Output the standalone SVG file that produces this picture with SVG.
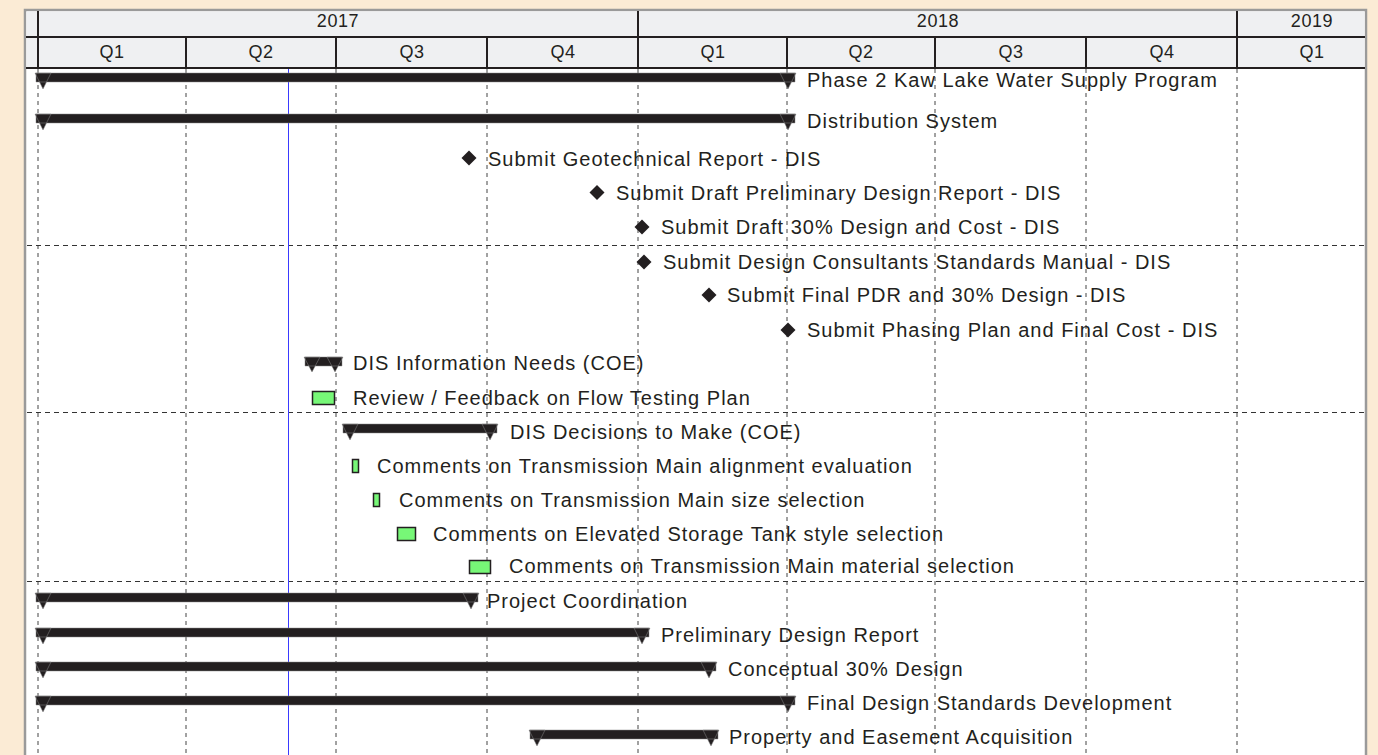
<svg xmlns="http://www.w3.org/2000/svg" width="1378" height="755" viewBox="0 0 1378 755">
<style>
.lbl{font-family:"Liberation Sans",Arial,sans-serif;font-size:20px;letter-spacing:1px;fill:#231F20}
.hdr{font-family:"Liberation Sans",Arial,sans-serif;font-size:18px;letter-spacing:0.6px;fill:#231F20;text-anchor:middle}
.sum{fill:#231F20;stroke:#8a8a8a;stroke-width:0.5;stroke-linejoin:round}
.ms{fill:#231F20}
.task{fill:#77F777;stroke:#231F20;stroke-width:1.5}
.vgrid{stroke:#444;stroke-width:1;stroke-dasharray:4 4}
.hgrid{stroke:#333;stroke-width:1;stroke-dasharray:5 4}
.hline{stroke:#231F20;stroke-width:2}
</style>
<rect x="0" y="0" width="1378" height="755" fill="#FBEBD5"/>
<g id="chart-frame">
<rect x="25" y="10" width="1341" height="760" fill="#FFFFFF" stroke="#9A9A9A" stroke-width="2.5"/>
<rect x="26.5" y="11.5" width="1338" height="56" fill="#EFF0F2"/>
</g>
<g id="header">
<line class="hline" x1="26" y1="37" x2="1365" y2="37"/>
<line class="hline" x1="26" y1="68" x2="1365" y2="68"/>
<g stroke="#231F20" stroke-width="2">
<line x1="38" y1="11" x2="38" y2="68"/>
<line x1="638" y1="11" x2="638" y2="68"/>
<line x1="1237" y1="11" x2="1237" y2="68"/>
<line x1="186" y1="37" x2="186" y2="68"/>
<line x1="336" y1="37" x2="336" y2="68"/>
<line x1="487" y1="37" x2="487" y2="68"/>
<line x1="787" y1="37" x2="787" y2="68"/>
<line x1="935" y1="37" x2="935" y2="68"/>
<line x1="1086" y1="37" x2="1086" y2="68"/>
</g>
<text class="hdr" x="338" y="27">2017</text>
<text class="hdr" x="938" y="27">2018</text>
<text class="hdr" x="1312" y="27">2019</text>
<text class="hdr" x="112" y="58">Q1</text>
<text class="hdr" x="261" y="58">Q2</text>
<text class="hdr" x="412" y="58">Q3</text>
<text class="hdr" x="563" y="58">Q4</text>
<text class="hdr" x="713" y="58">Q1</text>
<text class="hdr" x="861" y="58">Q2</text>
<text class="hdr" x="1011" y="58">Q3</text>
<text class="hdr" x="1162" y="58">Q4</text>
<text class="hdr" x="1312" y="58">Q1</text>
</g>
<g id="grid">
<line class="vgrid" x1="38" y1="69" x2="38" y2="755"/>
<line class="vgrid" x1="186" y1="69" x2="186" y2="755"/>
<line class="vgrid" x1="336" y1="69" x2="336" y2="755"/>
<line class="vgrid" x1="487" y1="69" x2="487" y2="755"/>
<line class="vgrid" x1="638" y1="69" x2="638" y2="755"/>
<line class="vgrid" x1="787" y1="69" x2="787" y2="755"/>
<line class="vgrid" x1="935" y1="69" x2="935" y2="755"/>
<line class="vgrid" x1="1086" y1="69" x2="1086" y2="755"/>
<line class="vgrid" x1="1237" y1="69" x2="1237" y2="755"/>
<line class="hgrid" x1="27" y1="245.5" x2="1365" y2="245.5"/>
<line class="hgrid" x1="27" y1="412.5" x2="1365" y2="412.5"/>
<line class="hgrid" x1="27" y1="581.5" x2="1365" y2="581.5"/>
<line x1="288.5" y1="69" x2="288.5" y2="755" stroke="#3A3AFF" stroke-width="1"/>
</g>
<g id="connectors"/>
<g id="task-phase2">
<path class="sum" d="M36 73H795V82H36Z M35 73h16l-8 16Z M780 73h16l-8 16Z"/>
<text class="lbl" x="807" y="87">Phase 2 Kaw Lake Water Supply Program</text>
</g>
<g id="task-distribution">
<path class="sum" d="M36 114H795V123H36Z M35 114h16l-8 16Z M780 114h16l-8 16Z"/>
<text class="lbl" x="807" y="128">Distribution System</text>
</g>
<g id="ms-geotech">
<path class="ms" d="M469 150.5l7.5 7.5l-7.5 7.5l-7.5-7.5Z"/>
<text class="lbl" x="488" y="165.5">Submit Geotechnical Report - DIS</text>
</g>
<g id="ms-draft-pdr">
<path class="ms" d="M597 185l7.5 7.5l-7.5 7.5l-7.5-7.5Z"/>
<text class="lbl" x="616" y="199.5">Submit Draft Preliminary Design Report - DIS</text>
</g>
<g id="ms-draft-30">
<path class="ms" d="M642 219.5l7.5 7.5l-7.5 7.5l-7.5-7.5Z"/>
<text class="lbl" x="661" y="234">Submit Draft 30% Design and Cost - DIS</text>
</g>
<g id="ms-standards-manual">
<path class="ms" d="M644 254.5l7.5 7.5l-7.5 7.5l-7.5-7.5Z"/>
<text class="lbl" x="663" y="269">Submit Design Consultants Standards Manual - DIS</text>
</g>
<g id="ms-final-pdr">
<path class="ms" d="M709 287.5l7.5 7.5l-7.5 7.5l-7.5-7.5Z"/>
<text class="lbl" x="727" y="302">Submit Final PDR and 30% Design - DIS</text>
</g>
<g id="ms-phasing">
<path class="ms" d="M788 322.5l7.5 7.5l-7.5 7.5l-7.5-7.5Z"/>
<text class="lbl" x="807" y="337">Submit Phasing Plan and Final Cost - DIS</text>
</g>
<g id="task-dis-info">
<path class="sum" d="M305 357H342V366H305Z M304 357h16l-8 15Z M327 357h16l-8 15Z"/>
<text class="lbl" x="353" y="370">DIS Information Needs (COE)</text>
</g>
<g id="task-flow-testing">
<rect class="task" x="312.5" y="391.5" width="22" height="13"/>
<text class="lbl" x="353" y="404.5">Review / Feedback on Flow Testing Plan</text>
</g>
<g id="task-dis-decisions">
<path class="sum" d="M343 424H497V433H343Z M342 424h16l-8 16Z M482 424h16l-8 16Z"/>
<text class="lbl" x="510" y="438.5">DIS Decisions to Make (COE)</text>
</g>
<g id="task-tm-alignment">
<rect class="task" x="352.5" y="459.5" width="6" height="13"/>
<text class="lbl" x="377" y="472.5">Comments on Transmission Main alignment evaluation</text>
</g>
<g id="task-tm-size">
<rect class="task" x="373.5" y="493.5" width="6" height="13"/>
<text class="lbl" x="399" y="506.5">Comments on Transmission Main size selection</text>
</g>
<g id="task-est-style">
<rect class="task" x="397.5" y="527.5" width="18" height="13"/>
<text class="lbl" x="433" y="541">Comments on Elevated Storage Tank style selection</text>
</g>
<g id="task-tm-material">
<rect class="task" x="469.5" y="560.5" width="21" height="13"/>
<text class="lbl" x="509" y="573">Comments on Transmission Main material selection</text>
</g>
<g id="task-project-coordination">
<path class="sum" d="M36 593H478V602H36Z M35 593h16l-8 16Z M463 593h16l-8 16Z"/>
<text class="lbl" x="487" y="607.5">Project Coordination</text>
</g>
<g id="task-pdr">
<path class="sum" d="M36 628H649V637H36Z M35 628h16l-8 16Z M634 628h16l-8 16Z"/>
<text class="lbl" x="661" y="642">Preliminary Design Report</text>
</g>
<g id="task-conceptual">
<path class="sum" d="M36 662H716V671H36Z M35 662h16l-8 16Z M701 662h16l-8 16Z"/>
<text class="lbl" x="728" y="676">Conceptual 30% Design</text>
</g>
<g id="task-final-standards">
<path class="sum" d="M36 696H795V705H36Z M35 696h16l-8 16Z M780 696h16l-8 16Z"/>
<text class="lbl" x="807" y="710">Final Design Standards Development</text>
</g>
<g id="task-property">
<path class="sum" d="M530 730H718V739H530Z M529 730h16l-8 16Z M703 730h16l-8 16Z"/>
<text class="lbl" x="729" y="744">Property and Easement Acquisition</text>
</g>
</svg>
